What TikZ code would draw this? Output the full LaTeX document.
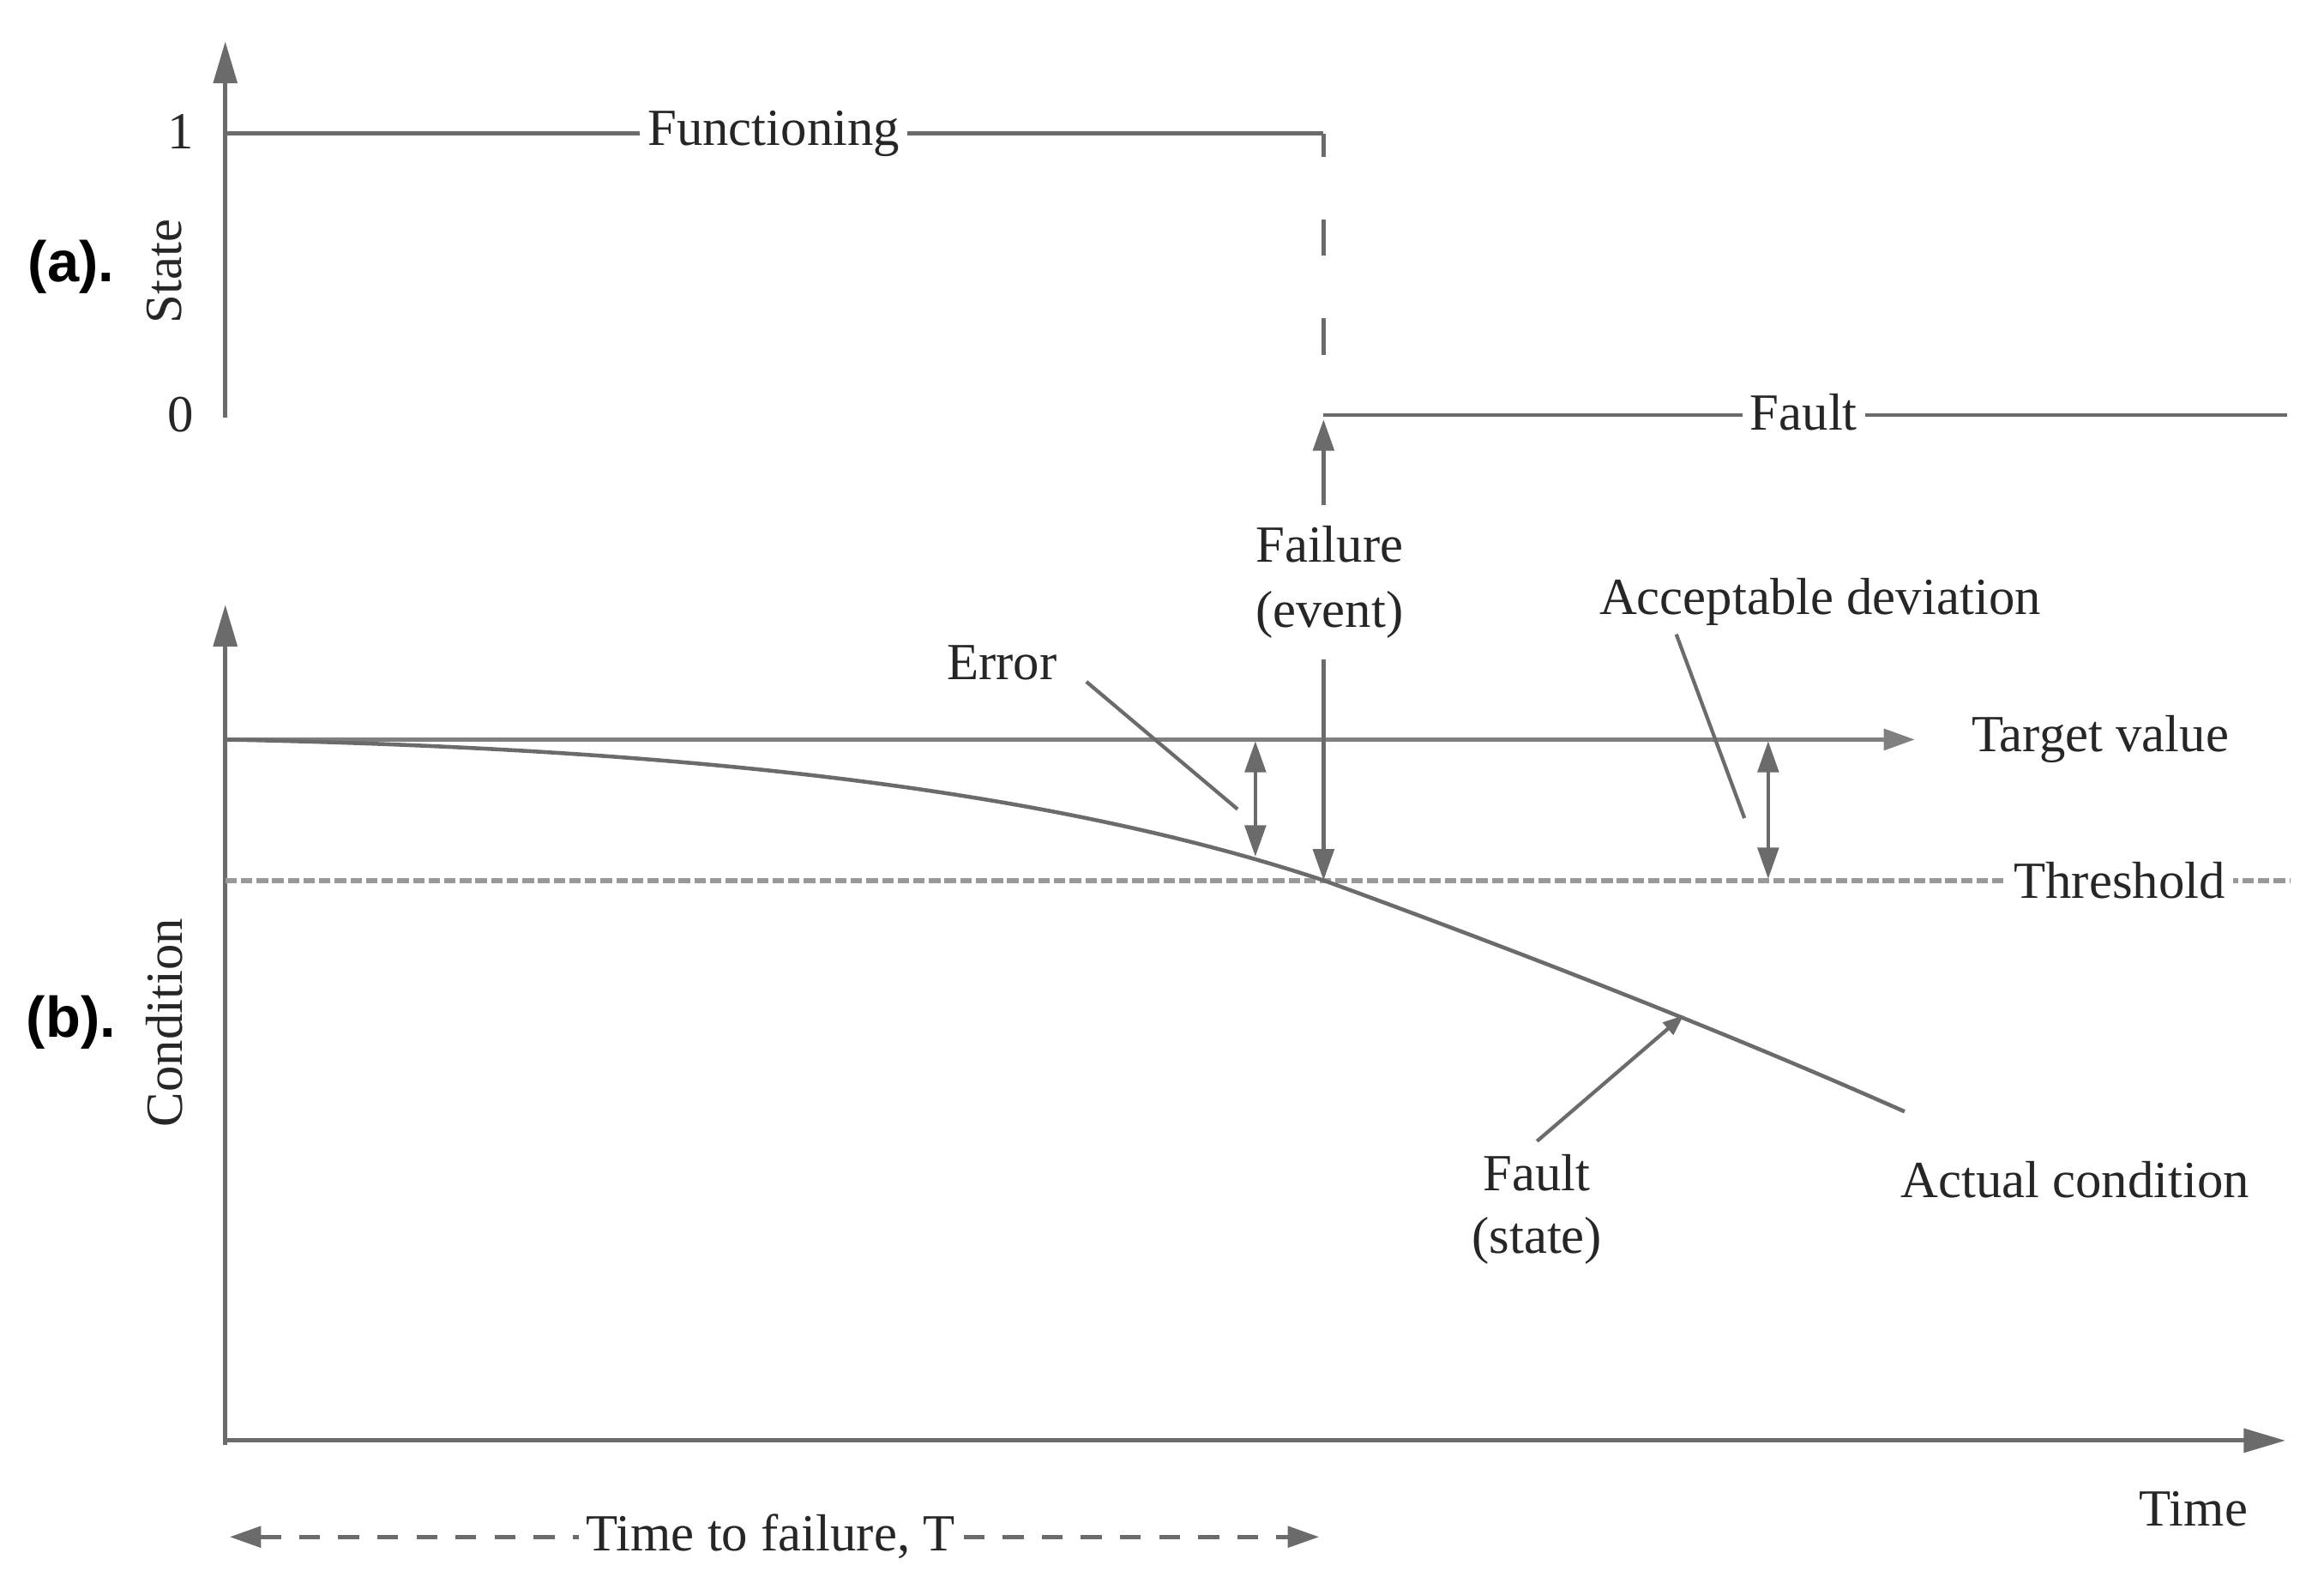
\documentclass[tikz,border=0pt]{standalone}
\usepackage{fontspec}
\setmainfont{Liberation Serif}
\newfontfamily\panelfont{Liberation Sans}
\usetikzlibrary{arrows.meta}
\begin{document}
\begin{tikzpicture}[x=0.01cm,y=-0.01cm,
  lbl/.style={font=\fontsize{10}{11}\selectfont, inner sep=1pt, text=black!85},
  wlbl/.style={lbl, fill=white, inner xsep=1.5pt, inner ysep=2pt},
  panel/.style={font=\panelfont\bfseries\fontsize{11}{12}\selectfont, text=black},
  ln/.style={draw=black!58, line width=0.75pt},
  axis/.style={draw=black!58, line width=0.8pt, -{Triangle[length=8pt,width=4.5pt]}},
  tipb/.style={-{Triangle[length=6pt,width=4pt]}},
  dtip/.style={{Triangle[length=6pt,width=4pt]}-{Triangle[length=6pt,width=4pt]}},
  thr/.style={draw=black!40, line width=1pt, dash pattern=on 2.2pt off 0.8pt},
  leader/.style={draw=black!58, line width=0.7pt},
]
\useasboundingbox (0,0) rectangle (1568,1076);

% ---------- panel (a) ----------
\coordinate (aO) at (152,282);
\coordinate (aTop) at (152,28);
\draw[axis] (aO) -- (aTop);
\node[lbl] (one) at (122,89) {1};
\node[lbl] (zero) at (122,280) {0};
\node[lbl, rotate=90] (state) at (111,183) {State};
\node[panel] (pa) at (48,180) {(a).};

\coordinate (f0) at (152,90);
\coordinate (f1) at (893,90);
\coordinate (f2) at (893,280);
\coordinate (f3) at (1543,280);
\draw[ln] (f0) -- (f1);
\draw[ln, dash pattern=on 7pt off 12pt, dash phase=2.5pt] (f1) -- (f2);
\draw[ln] (f2) -- (f3);
\node[wlbl] (func) at (522,90) {Functioning};
\node[wlbl] (fault) at (1217,278) {Fault};

% ---------- panel (b) ----------
\coordinate (bO) at (152,975);
\coordinate (bTop) at (152,408);
\coordinate (bX) at (1542,972);
\draw[axis] (bO) -- (bTop);
\draw[axis] (152,972) -- (bX);
\node[lbl, rotate=90] (cond) at (111,690) {Condition};
\node[panel] (pb) at (48,690) {(b).};
\node[lbl] (time) at (1480,1018) {Time};

% target value and threshold
\coordinate (t0) at (152,499);
\coordinate (t1) at (1292,499);
\draw[ln, line width=0.9pt, draw=black!50, tipb] (t0) -- (t1);
\node[lbl, anchor=west] (target) at (1326,499) {Target value};

\coordinate (h0) at (152,594);
\coordinate (h1) at (1545,594);
\draw[thr] (h0) -- (h1);
\node[wlbl] (thresh) at (1430,594) {Threshold};

% actual condition curve
\coordinate (cF) at (893,594);
\coordinate (cE) at (1285,750);
\draw[ln] (t0) .. controls (450,505) and (700,530) .. (cF)
               .. controls (1000,633) and (1150,690) .. (cE);

% failure event arrow
\coordinate (fa0) at (893,283);
\draw[ln, dtip] (fa0) -- (cF);
\node[wlbl, align=center, inner ysep=4pt, font=\fontsize{10}{12.5}\selectfont] (failure) at (897,393) {Failure\\(event)};

% error
\coordinate (e0) at (847,500);
\coordinate (e1) at (847,578);
\draw[ln, dtip] (e0) -- (e1);
\node[lbl] (error) at (676,447) {Error};
\coordinate (el0) at (733,460);
\coordinate (el1) at (835,546);
\draw[leader] (el0) -- (el1);

% acceptable deviation
\coordinate (a0) at (1193,500);
\coordinate (a1) at (1193,593);
\draw[ln, dtip] (a0) -- (a1);
\node[lbl] (accept) at (1228,406) {Acceptable deviation};
\coordinate (al0) at (1131,428);
\coordinate (al1) at (1177,552);
\draw[leader] (al0) -- (al1);

% fault state
\node[lbl, align=center, font=\fontsize{10}{12}\selectfont] (fstate) at (1037,816) {Fault\\(state)};
\coordinate (fs1) at (1136,685);
\draw[leader, -{Triangle[length=4pt,width=3pt]}] (1037,770) -- (fs1);

\node[lbl] (actual) at (1400,796) {Actual condition};

% time to failure
\coordinate (tf0) at (155,1037);
\coordinate (tf1) at (890,1037);
\draw[ln, dash pattern=on 4pt off 3.5pt, dtip] (tf0) -- (tf1);
\node[wlbl] (ttf) at (520,1037) {Time to failure, T};
\end{tikzpicture}
\end{document}
